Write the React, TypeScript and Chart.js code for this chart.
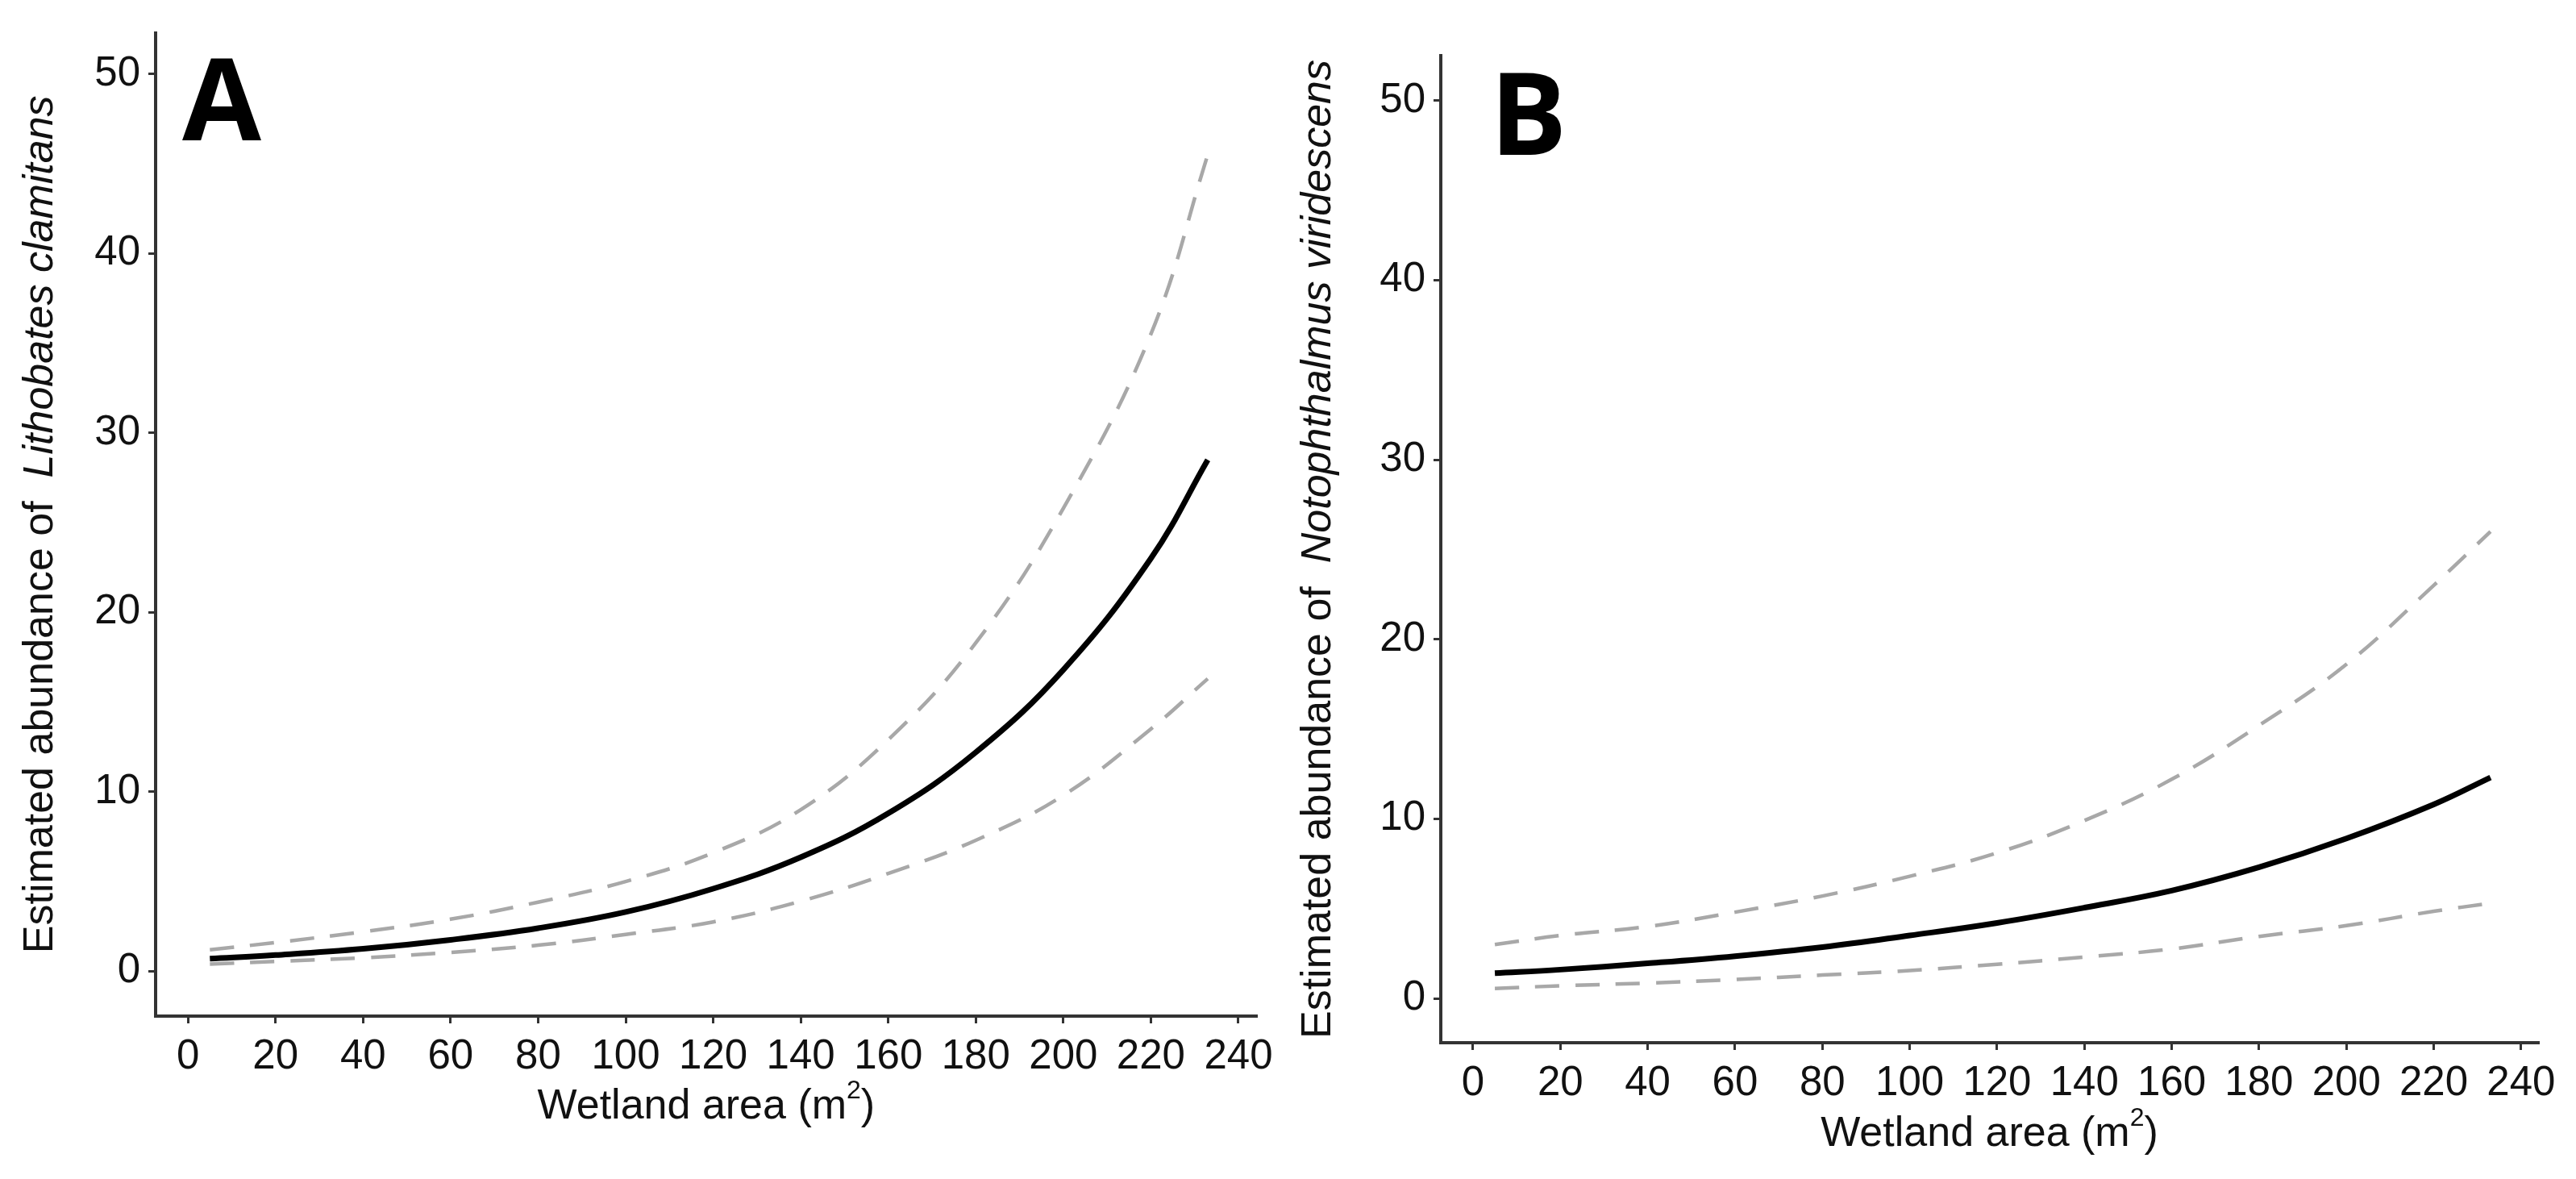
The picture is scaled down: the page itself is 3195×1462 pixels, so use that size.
import React, { useEffect, useRef } from "react";
import { Chart, registerables } from "chart.js";
Chart.register(...registerables);

// Wetland area (m²) at which the curves were read
const areaX = [5, 20, 40, 60, 80, 100, 120, 140, 160, 180, 200, 220, 233];

// Panel A: Lithobates clamitans
const frogMean = [0.7, 0.9, 1.25, 1.75, 2.4, 3.3, 4.6, 6.35, 8.8, 12.2, 16.8, 23.0, 28.5];
const frogUpper = [1.2, 1.6, 2.2, 2.9, 3.85, 5.0, 6.6, 9.0, 12.9, 18.3, 25.8, 35.5, 45.5];
const frogLower = [0.4, 0.55, 0.75, 1.05, 1.45, 2.05, 2.75, 3.9, 5.45, 7.3, 9.8, 13.5, 16.3];

// Panel B: Notophthalmus viridescens
const newtMean = [1.4, 1.6, 1.95, 2.35, 2.85, 3.5, 4.2, 5.05, 6.0, 7.3, 8.9, 10.8, 12.3];
const newtUpper = [3.0, 3.5, 4.0, 4.8, 5.7, 6.8, 8.1, 9.9, 12.2, 15.2, 18.6, 23.0, 26.0];
const newtLower = [0.55, 0.7, 0.85, 1.05, 1.3, 1.55, 1.9, 2.3, 2.75, 3.45, 4.05, 4.85, 5.3];

const xTickValues = [0, 20, 40, 60, 80, 100, 120, 140, 160, 180, 200, 220, 240];
const yTickValues = [0, 10, 20, 30, 40, 50];

const FONT = '"Liberation Sans", Arial, sans-serif';
const AXIS_COLOR = "#333333";
const TEXT_COLOR = "#111111";

const annotatePlugin = {
  id: "annot",
  afterDraw(chart: any, _args: any, opts: any) {
    const ctx = chart.ctx;
    const ca = chart.chartArea;
    ctx.save();
    // panel letter
    ctx.fillStyle = "#000";
    ctx.font = `bold ${opts.letterSize}px "Open Sans", "Liberation Sans", sans-serif`;
    ctx.textAlign = "left";
    ctx.textBaseline = "alphabetic";
    ctx.fillText(opts.letter, opts.letterX, opts.letterY);

    // y-axis title (mixed roman + italic)
    ctx.save();
    ctx.translate(opts.yTitleX, (ca.top + ca.bottom) / 2);
    ctx.rotate(-Math.PI / 2);
    const f1 = `${opts.titleSize}px ${FONT}`;
    const f2 = `italic ${opts.titleSize}px ${FONT}`;
    ctx.font = f1;
    const w1 = ctx.measureText(opts.yPrefix).width;
    ctx.font = f2;
    const w2 = ctx.measureText(opts.yItalic).width;
    const x0 = -(w1 + w2) / 2;
    ctx.textBaseline = "middle";
    ctx.fillStyle = TEXT_COLOR;
    ctx.font = f1;
    ctx.fillText(opts.yPrefix, x0, 0);
    ctx.font = f2;
    ctx.fillText(opts.yItalic, x0 + w1, 0);
    ctx.restore();

    // x-axis title with superscript
    const base = "Wetland area (m";
    const sup = "2";
    const close = ")";
    const fs = opts.titleSize;
    const fMain = `${fs}px ${FONT}`;
    const fSup = `${Math.round(fs * 0.62)}px ${FONT}`;
    ctx.font = fMain;
    const wb = ctx.measureText(base).width;
    const wc = ctx.measureText(close).width;
    ctx.font = fSup;
    const ws = ctx.measureText(sup).width;
    const total = wb + ws + wc;
    let x = (ca.left + ca.right) / 2 - total / 2;
    const y = opts.xTitleY;
    ctx.fillStyle = TEXT_COLOR;
    ctx.textBaseline = "middle";
    ctx.textAlign = "left";
    ctx.font = fMain;
    ctx.fillText(base, x, y);
    x += wb;
    ctx.font = fSup;
    ctx.fillText(sup, x, y - fs * 0.38);
    x += ws;
    ctx.font = fMain;
    ctx.fillText(close, x, y);
    ctx.restore();
  },
};

type PanelProps = {
  left: number;
  width: number;
  mean: number[];
  upper: number[];
  lower: number[];
  yAxisWidth: number;
  xAxisHeight: number;
  padTop: number;
  padRight: number;
  xMin: number;
  xMax: number;
  yMin: number;
  yMax: number;
  letter: string;
  letterX: number;
  letterY: number;
  yTitleX: number;
  xTitleY: number;
  yItalic: string;
};

function toPoints(ys: number[]) {
  return areaX.map((x, i) => ({ x, y: ys[i] }));
}

function Panel(p: PanelProps) {
  const ref = useRef<HTMLCanvasElement | null>(null);
  useEffect(() => {
    if (!ref.current) return;
    const dashed = {
      borderColor: "#a8a8a8",
      borderWidth: 4.5,
      borderDash: [30, 20],
      pointRadius: 0,
      tension: 0.4,
      fill: false,
    };
    const chart = new Chart(ref.current, {
      type: "line",
      data: {
        datasets: [
          { ...dashed, label: "upper", data: toPoints(p.upper) },
          { ...dashed, label: "lower", data: toPoints(p.lower) },
          {
            label: "mean",
            data: toPoints(p.mean),
            borderColor: "#000",
            borderWidth: 7,
            pointRadius: 0,
            tension: 0.4,
            borderCapStyle: "butt",
            fill: false,
          },
        ],
      },
      options: {
        animation: false,
        responsive: false,
        devicePixelRatio: 1,
        layout: { padding: { left: 0, top: p.padTop, right: p.padRight, bottom: 0 } },
        plugins: {
          legend: { display: false },
          tooltip: { enabled: false },
          annot: {
            letter: p.letter,
            letterX: p.letterX,
            letterY: p.letterY,
            letterSize: 142,
            yTitleX: p.yTitleX,
            xTitleY: p.xTitleY,
            titleSize: 52,
            yPrefix: "Estimated abundance of  ",
            yItalic: p.yItalic,
          },
        } as any,
        scales: {
          x: {
            type: "linear",
            min: p.xMin,
            max: p.xMax,
            afterBuildTicks: (s: any) => {
              s.ticks = xTickValues.map((v) => ({ value: v }));
            },
            afterFit: (s: any) => {
              s.height = p.xAxisHeight;
            },
            ticks: {
              font: { family: FONT, size: 51 },
              color: TEXT_COLOR,
              padding: 11,
              maxRotation: 0,
              autoSkip: false,
            },
            grid: {
              display: true,
              drawOnChartArea: false,
              drawTicks: true,
              tickLength: 9,
              color: AXIS_COLOR,
              lineWidth: 3,
            },
            border: { display: true, color: AXIS_COLOR, width: 4 },
          },
          y: {
            type: "linear",
            min: p.yMin,
            max: p.yMax,
            afterBuildTicks: (s: any) => {
              s.ticks = yTickValues.map((v) => ({ value: v }));
            },
            afterFit: (s: any) => {
              s.width = p.yAxisWidth;
            },
            ticks: {
              font: { family: FONT, size: 51 },
              color: TEXT_COLOR,
              padding: 10,
              autoSkip: false,
            },
            grid: {
              display: true,
              drawOnChartArea: false,
              drawTicks: true,
              tickLength: 9,
              color: AXIS_COLOR,
              lineWidth: 3,
            },
            border: { display: true, color: AXIS_COLOR, width: 4 },
          },
        },
      },
      plugins: [annotatePlugin as any],
    });
    return () => chart.destroy();
  }, []);
  return (
    <canvas
      ref={ref}
      width={p.width}
      height={1462}
      style={{ position: "absolute", left: p.left, top: 0, width: p.width, height: 1462 }}
    />
  );
}

export default function App() {
  return (
    <div style={{ position: "absolute", left: 0, top: 0, width: 3195, height: 1462, background: "#fff", overflow: "hidden" }}>
      <Panel
        left={0}
        width={1590}
        mean={frogMean}
        upper={frogUpper}
        lower={frogLower}
        yAxisWidth={193}
        xAxisHeight={202}
        padTop={37}
        padRight={29}
        xMin={-7.4}
        xMax={244.2}
        yMin={-2.5}
        yMax={52.3}
        letter="A"
        letterX={226}
        letterY={174}
        yTitleX={51}
        xTitleY={1373}
        yItalic="Lithobates clamitans"
      />
      <Panel
        left={1590}
        width={1605}
        mean={newtMean}
        upper={newtUpper}
        lower={newtLower}
        yAxisWidth={197}
        xAxisHeight={169}
        padTop={69}
        padRight={47}
        xMin={-7.38}
        xMax={243.9}
        yMin={-2.47}
        yMax={52.5}
        letter="B"
        letterX={258}
        letterY={192}
        yTitleX={46}
        xTitleY={1407}
        yItalic="Notophthalmus viridescens"
      />
    </div>
  );
}
